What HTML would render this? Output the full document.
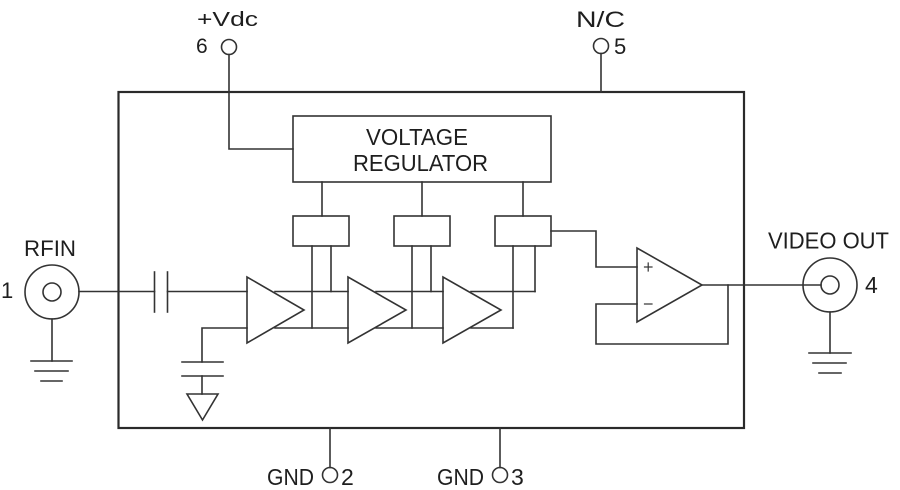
<!DOCTYPE html>
<html>
<head>
<meta charset="utf-8">
<style>
  html,body{margin:0;padding:0;background:#fff;}
  svg{display:block;}
  text{font-family:"Liberation Sans", sans-serif; fill:#1e1e1e;}
</style>
</head>
<body>
<svg width="900" height="490" viewBox="0 0 900 490" xmlns="http://www.w3.org/2000/svg">
  <g fill="none" stroke="#333" stroke-width="1.6" stroke-linecap="square">
    <!-- outer box -->
    <rect x="118.5" y="92" width="625.5" height="336" stroke-width="2.2" stroke="#2a2a2a"/>

    <!-- pin 6 -->
    <circle cx="229" cy="47" r="7.5"/>
    <polyline points="229,54.5 229,149 293,149"/>
    <!-- pin 5 -->
    <circle cx="601" cy="46" r="7.5"/>
    <line x1="601" y1="53.5" x2="601" y2="92"/>
    <!-- GND 2 -->
    <line x1="330" y1="428" x2="330" y2="467.5"/>
    <circle cx="330" cy="475" r="7.5"/>
    <!-- GND 3 -->
    <line x1="500" y1="428" x2="500" y2="467.5"/>
    <circle cx="500" cy="475" r="7.5"/>

    <!-- voltage regulator -->
    <rect x="293" y="116" width="258" height="66"/>
    <line x1="322" y1="182" x2="322" y2="216"/>
    <line x1="422" y1="182" x2="422" y2="216"/>
    <line x1="523" y1="182" x2="523" y2="216"/>

    <!-- small boxes -->
    <rect x="293" y="216" width="56" height="30"/>
    <rect x="394" y="216" width="56" height="30"/>
    <rect x="495" y="216" width="56" height="30"/>

    <!-- legs -->
    <line x1="312" y1="246" x2="312" y2="328"/>
    <line x1="331" y1="246" x2="331" y2="291.5"/>
    <line x1="412" y1="246" x2="412" y2="328"/>
    <line x1="431" y1="246" x2="431" y2="291.5"/>
    <line x1="513" y1="246" x2="513" y2="328"/>
    <line x1="535" y1="246" x2="535" y2="291.5"/>

    <!-- rails between amps -->
    <line x1="275" y1="291.5" x2="348" y2="291.5"/>
    <line x1="275" y1="328" x2="348" y2="328"/>
    <line x1="376" y1="291.5" x2="443" y2="291.5"/>
    <line x1="376" y1="328" x2="443" y2="328"/>
    <line x1="471" y1="291.5" x2="535" y2="291.5"/>
    <line x1="471" y1="328" x2="513" y2="328"/>

    <!-- amplifiers -->
    <polygon points="247,277 247,343 304,310" fill="none"/>
    <polygon points="348,277 348,343 406,310" fill="none"/>
    <polygon points="443,277 443,343 501,310" fill="none"/>

    <!-- RFIN connector -->
    <circle cx="52" cy="292" r="27"/>
    <circle cx="52" cy="292" r="9"/>
    <line x1="79" y1="291.5" x2="154.5" y2="291.5"/>
    <line x1="154.5" y1="272" x2="154.5" y2="312"/>
    <line x1="167.5" y1="272" x2="167.5" y2="312"/>
    <line x1="167.5" y1="291.5" x2="247" y2="291.5"/>
    <line x1="52" y1="319" x2="52" y2="361"/>
    <line x1="31" y1="361" x2="72" y2="361"/>
    <line x1="35" y1="371" x2="68" y2="371"/>
    <line x1="41" y1="381" x2="62" y2="381"/>

    <!-- amp1 bias/decoupling -->
    <polyline points="247,328 202,328 202,362"/>
    <line x1="182" y1="362" x2="223" y2="362"/>
    <line x1="182" y1="376" x2="223" y2="376"/>
    <line x1="202" y1="376" x2="202" y2="394"/>
    <polygon points="187,394 218,394 202.5,420"/>

    <!-- op amp -->
    <polyline points="551,231 596,231 596,267 637,267"/>
    <polyline points="637,304 596,304 596,344 728,344 728,285"/>
    <polygon points="637,248 637,322 702,285"/>
    <line x1="644.5" y1="267" x2="652" y2="267" stroke-width="1.2"/>
    <line x1="648.2" y1="263" x2="648.2" y2="271" stroke-width="1.2"/>
    <line x1="644.5" y1="304" x2="652" y2="304" stroke-width="1.2"/>
    <line x1="702" y1="285" x2="821" y2="285"/>

    <!-- VIDEO OUT connector -->
    <circle cx="830" cy="285" r="27"/>
    <circle cx="830" cy="285" r="9"/>
    <line x1="830" y1="312" x2="830" y2="353"/>
    <line x1="809" y1="353" x2="851" y2="353"/>
    <line x1="813" y1="363" x2="846" y2="363"/>
    <line x1="819" y1="373" x2="841" y2="373"/>
  </g>

  <!-- labels -->
  <text x="197" y="26" font-size="20" textLength="61" lengthAdjust="spacingAndGlyphs">+Vdc</text>
  <text x="196" y="53" font-size="21">6</text>
  <text x="576" y="27" font-size="22" textLength="49" lengthAdjust="spacingAndGlyphs">N/C</text>
  <text x="614" y="54" font-size="22">5</text>

  <text x="366" y="145" font-size="23" textLength="102" lengthAdjust="spacingAndGlyphs">VOLTAGE</text>
  <text x="353" y="171" font-size="23" textLength="135" lengthAdjust="spacingAndGlyphs">REGULATOR</text>

  <text x="24" y="256" font-size="22" textLength="52" lengthAdjust="spacingAndGlyphs">RFIN</text>
  <text x="1" y="298" font-size="22">1</text>

  <text x="768" y="248.5" font-size="23" textLength="121" lengthAdjust="spacingAndGlyphs">VIDEO OUT</text>
  <text x="865" y="293" font-size="23">4</text>

  <text x="267" y="485" font-size="23" textLength="47" lengthAdjust="spacingAndGlyphs">GND</text>
  <text x="341" y="485" font-size="23">2</text>
  <text x="437" y="485" font-size="23" textLength="47" lengthAdjust="spacingAndGlyphs">GND</text>
  <text x="511" y="485" font-size="23">3</text>
</svg>
</body>
</html>
